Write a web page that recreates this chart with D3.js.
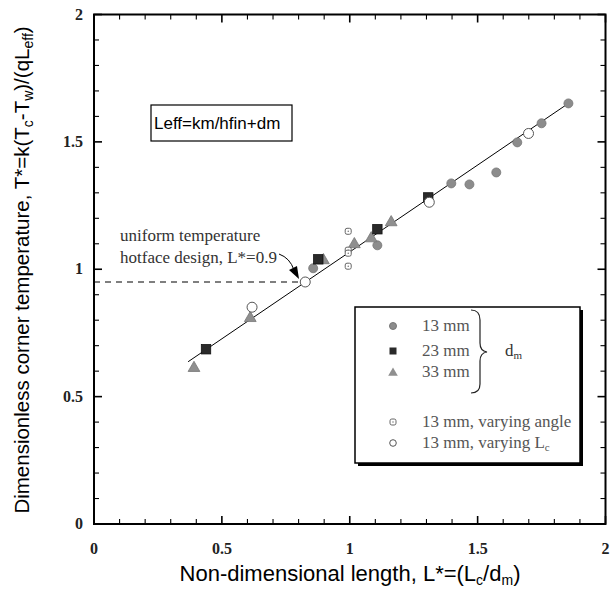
<!DOCTYPE html>
<html><head><meta charset="utf-8">
<script src="https://cdn.jsdelivr.net/npm/d3@7"></script>
<style>body{margin:0;background:#fff}svg{display:block}</style>
</head><body>
<svg id="c" width="612" height="591"></svg>
<script>
// ---- data ----
const xTicks = [0, 0.5, 1, 1.5, 2];
const yTicks = [0, 0.5, 1, 1.5, 2];
const tickLabels = ["0", "0.5", "1", "1.5", "2"];
// 13 mm (grey circles)
const d13 = [[0.857,1.004],[1.108,1.094],[1.397,1.337],[1.468,1.333],[1.573,1.380],[1.655,1.498],[1.75,1.573],[1.855,1.651]];
// 23 mm (dark squares)
const d23 = [[0.438,0.686],[0.877,1.039],[1.108,1.157],[1.307,1.282]];
// 33 mm (grey triangles)
const d33 = [[0.391,0.616],[0.611,0.812],[0.897,1.039],[1.018,1.102],[1.084,1.125],[1.162,1.188]];
// 13 mm varying angle
const dAngle = [[0.994,1.149],[0.994,1.075],[0.994,1.063],[0.994,1.012]];
// 13 mm varying Lc
const dLc = [[0.618,0.851],[0.826,0.950],[1.311,1.263],[1.699,1.533]];
// fit line
const fitX = [0.368, 1.855];
const fitSlope = 0.682, fitIntercept = 0.386;
const uniformPoint = [0.826, 0.950];

const svg = d3.select("#c");
const L = 94, R = 605.5, T = 14.5, B = 524;
const x = d3.scaleLinear().domain([0,2]).range([L,R]);
const y = d3.scaleLinear().domain([0,2]).range([B,T]);
const serif = "'Liberation Serif','DejaVu Serif',serif";
const sans = "'Liberation Sans',Arial,sans-serif";

// ticks inward on all sides
const minor = d3.range(0, 2.0001, 0.1);
const tk = svg.append("g").attr("stroke","#000");
minor.forEach(v => {
  const major = Math.abs(v*2 - Math.round(v*2)) < 1e-6;
  const len = major ? 8 : 5;
  const sw = major ? 1.6 : 1.1;
  tk.append("line").attr("x1",x(v)).attr("x2",x(v)).attr("y1",B).attr("y2",B-len).attr("stroke-width",sw);
  tk.append("line").attr("x1",x(v)).attr("x2",x(v)).attr("y1",T).attr("y2",T+len).attr("stroke-width",sw);
  tk.append("line").attr("y1",y(v)).attr("y2",y(v)).attr("x1",L).attr("x2",L+len).attr("stroke-width",sw);
  tk.append("line").attr("y1",y(v)).attr("y2",y(v)).attr("x1",R).attr("x2",R-len).attr("stroke-width",sw);
});
svg.append("rect").attr("x",L).attr("y",T).attr("width",R-L).attr("height",B-T)
  .attr("fill","none").attr("stroke","#000").attr("stroke-width",2);

// tick labels
svg.append("g").selectAll("text").data(xTicks).join("text")
  .attr("x",d=>x(d)).attr("y",554).attr("text-anchor","middle")
  .attr("font-family",serif).attr("font-size",16).attr("font-weight","bold").attr("fill","#222")
  .text((d,i)=>tickLabels[i]);
svg.append("g").selectAll("text").data(yTicks).join("text")
  .attr("x",83).attr("y",d=>y(d)+5).attr("text-anchor","end")
  .attr("font-family",serif).attr("font-size",16).attr("font-weight","bold").attr("fill","#222")
  .text((d,i)=>tickLabels[i]);

// axis titles
const xt = svg.append("text").attr("x",350).attr("y",581).attr("text-anchor","middle")
  .attr("font-family",sans).attr("font-size",22).attr("fill","#000");
xt.append("tspan").text("Non-dimensional length, L*=(L");
xt.append("tspan").attr("font-size",14).attr("dy",4).text("c");
xt.append("tspan").attr("dy",-4).text("/d");
xt.append("tspan").attr("font-size",14).attr("dy",4).text("m");
xt.append("tspan").attr("dy",-4).text(")");

const yt = svg.append("text").attr("transform","translate(29,270) rotate(-90)").attr("text-anchor","middle")
  .attr("font-family",sans).attr("font-size",20.5).attr("fill","#000");
yt.append("tspan").text("Dimensionless corner temperature, T*=k(T");
yt.append("tspan").attr("font-size",14).attr("dy",4).text("c");
yt.append("tspan").attr("dy",-4).text("-T");
yt.append("tspan").attr("font-size",14).attr("dy",4).text("w");
yt.append("tspan").attr("dy",-4).text(")/(qL");
yt.append("tspan").attr("font-size",14).attr("dy",4).text("eff");
yt.append("tspan").attr("dy",-4).text(")");

// dashed line to uniform point
svg.append("line").attr("x1",x(0)).attr("x2",x(uniformPoint[0])-4)
  .attr("y1",y(uniformPoint[1])).attr("y2",y(uniformPoint[1]))
  .attr("stroke","#000").attr("stroke-width",1.1).attr("stroke-dasharray","6,5");

// fit line
svg.append("line").attr("x1",x(fitX[0])).attr("y1",y(fitIntercept+fitSlope*fitX[0]))
  .attr("x2",x(fitX[1])).attr("y2",y(fitIntercept+fitSlope*fitX[1]))
  .attr("stroke","#000").attr("stroke-width",1);

// markers
const grey = "#8c8c8c";
function drawCircles(data){
  svg.append("g").selectAll("circle").data(data).join("circle")
    .attr("cx",d=>x(d[0])).attr("cy",d=>y(d[1])).attr("r",4.5)
    .attr("fill",grey).attr("stroke","#777").attr("stroke-width",0.8);
}
function drawSquares(data){
  svg.append("g").selectAll("rect").data(data).join("rect")
    .attr("x",d=>x(d[0])-4.7).attr("y",d=>y(d[1])-4.7).attr("width",9.4).attr("height",9.4)
    .attr("fill","#2a2a2a").attr("stroke","#111").attr("stroke-width",0.8);
}
const triPath = d3.symbol(d3.symbolTriangle, 60);
function drawTriangles(data){
  svg.append("g").selectAll("path").data(data).join("path")
    .attr("transform",d=>`translate(${x(d[0])},${y(d[1])+1})`).attr("d",triPath)
    .attr("fill","#8f8f8f").attr("stroke","#777").attr("stroke-width",0.8);
}
function drawAngle(data){
  const g = svg.append("g").selectAll("g").data(data).join("g")
    .attr("transform",d=>`translate(${x(d[0])},${y(d[1])})`);
  g.append("rect").attr("x",-3).attr("y",-3).attr("width",6).attr("height",6).attr("rx",1.8)
    .attr("fill","#fff").attr("stroke","#666").attr("stroke-width",1);
  g.append("circle").attr("r",0.7).attr("fill","#666");
}
function drawLc(data){
  svg.append("g").selectAll("circle").data(data).join("circle")
    .attr("cx",d=>x(d[0])).attr("cy",d=>y(d[1])).attr("r",5)
    .attr("fill","#fff").attr("stroke","#555").attr("stroke-width",1);
}
drawCircles(d13);
drawTriangles(d33);
drawSquares(d23);
drawLc(dLc);
drawAngle(dAngle);

// Leff box
svg.append("rect").attr("x",151).attr("y",105).attr("width",141).attr("height",36)
  .attr("fill","#fff").attr("stroke","#000").attr("stroke-width",1.2);
svg.append("text").attr("x",154).attr("y",129).attr("font-family",sans).attr("font-size",17)
  .text("Leff=km/hfin+dm");

// annotation
const ann = svg.append("g").attr("font-family",serif).attr("font-size",17).attr("fill","#333");
ann.append("text").attr("x",120).attr("y",241).text("uniform temperature");
ann.append("text").attr("x",120).attr("y",263).text("hotface design, L*=0.9");
svg.append("path").attr("d","M279,254 Q290,258 294,270").attr("fill","none").attr("stroke","#000").attr("stroke-width",1);
svg.append("path").attr("d","M299,279 L289,270 L297,266 Z").attr("fill","#000");

// legend box with shadow
const lx=355, ly=307, lw=225, lh=156;
svg.append("rect").attr("x",lx+3).attr("y",ly+3).attr("width",lw).attr("height",lh).attr("fill","#000");
svg.append("rect").attr("x",lx).attr("y",ly).attr("width",lw).attr("height",lh)
  .attr("fill","#fff").attr("stroke","#000").attr("stroke-width",1.5);
const legItems = [
  {t:"13 mm", y:326, k:"c"},
  {t:"23 mm", y:351, k:"s"},
  {t:"33 mm", y:372, k:"t"},
  {t:"13 mm, varying angle", y:422, k:"a"},
  {t:"13 mm, varying L", sub:"c", y:443, k:"l"}
];
const mx = 393;
legItems.forEach(it=>{
  if(it.k==="c") svg.append("circle").attr("cx",mx).attr("cy",it.y).attr("r",3.5).attr("fill",grey).attr("stroke","#777");
  if(it.k==="s") svg.append("rect").attr("x",mx-3.5).attr("y",it.y-3.5).attr("width",7).attr("height",7).attr("fill","#2a2a2a");
  if(it.k==="t") svg.append("path").attr("transform",`translate(${mx},${it.y+1})`).attr("d",d3.symbol(d3.symbolTriangle,40)).attr("fill","#8f8f8f");
  if(it.k==="a"){ svg.append("rect").attr("x",mx-3).attr("y",it.y-3).attr("width",6).attr("height",6).attr("rx",1.8).attr("fill","#fff").attr("stroke","#666");
    svg.append("circle").attr("cx",mx).attr("cy",it.y).attr("r",0.7).attr("fill","#666"); }
  if(it.k==="l") svg.append("circle").attr("cx",mx).attr("cy",it.y).attr("r",3.3).attr("fill","#fff").attr("stroke","#555");
  const t = svg.append("text").attr("x",422).attr("y",it.y+5).attr("font-family",serif).attr("font-size",17).attr("fill","#555");
  t.append("tspan").text(it.t);
  if(it.sub){ t.append("tspan").attr("font-size",11).attr("dy",3).text(it.sub); }
});
// brace
svg.append("path").attr("d","M471,310 Q480,310 480,320 L480,343 Q480,351 487,352 Q480,353 480,361 L480,384 Q480,393 471,393")
  .attr("fill","none").attr("stroke","#222").attr("stroke-width",1.2);
const dm = svg.append("text").attr("x",505).attr("y",356).attr("font-family",serif).attr("font-size",17).attr("fill","#333");
dm.append("tspan").text("d");
dm.append("tspan").attr("font-size",11).attr("dy",3).text("m");
</script>
</body></html>
